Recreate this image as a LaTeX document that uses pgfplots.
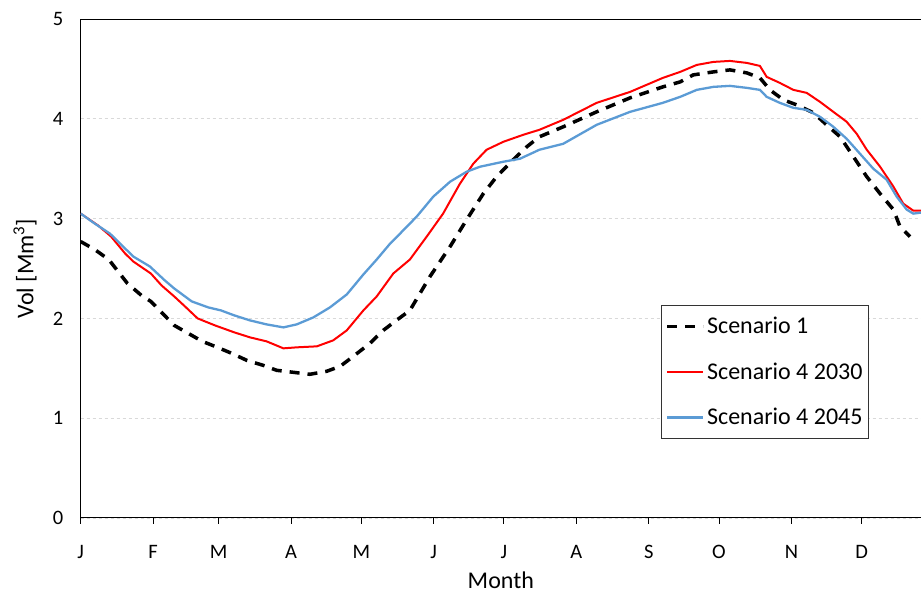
\documentclass[border=0pt]{standalone}
\usepackage{fontspec}
\setmainfont{Carlito}
\usepackage{pgfplots}
\pgfplotsset{compat=1.18}
\definecolor{exred}{HTML}{FF0000}
\definecolor{exblue}{HTML}{5B9BD5}
\definecolor{gridgray}{HTML}{D9D9D9}
\begin{document}
\begin{tikzpicture}[x=1pt,y=1pt]
\useasboundingbox (-80.7,-76) rectangle (840.3,518);
\begin{axis}[
 at={(0,0)}, anchor=south west,
 scale only axis, width=840.3pt, height=499pt,
 xmin=0, xmax=359.4, ymin=0, ymax=5,
 axis x line*=box, axis y line*=left,
 x axis line style={-, line width=1pt},
 y axis line style={-, line width=1pt},
 ytick={0,1,2,3,4,5},
 ytick style={draw=none},
 xtick={0,31,59,90,120,151,181,212,243,273,304,334},
 xticklabels={J,F,M,A,M,J,J,A,S,O,N,D},
 xtick pos=left,
 tick align=outside,
 major tick length=6pt,
 xtick style={black, line width=0.8pt},
 ymajorgrids,
 grid style={dashed, gridgray, line width=0.9pt},
 /pgf/number format/assume math mode=true,
 tick label style={font=\fontsize{20.5}{24}\selectfont},
 xticklabel style={anchor=base, yshift=-35pt},
 yticklabel style={anchor=east, xshift=-8pt},
 label style={font=\fontsize{24}{28}\selectfont},
 xlabel={Month},
 ylabel={Vol [Mm\textsuperscript{3}]},
 xlabel style={at={(axis description cs:0.5,-0.1403)}, anchor=base},
 ylabel style={at={(axis description cs:-0.0663,0.5)}, anchor=center},
 legend style={at={(0.938,0.427)}, anchor=north east, draw=black!80, line width=0.8pt,
   font=\fontsize{24}{28}\selectfont, row sep=23.5pt, inner xsep=4pt, inner ysep=10pt},
 legend cell align=left,
 legend image code/.code={\draw[#1] (0pt,0pt) -- (36pt,0pt);},
]
\addplot[black, line width=3.5pt, dash pattern=on 10pt off 8pt] coordinates {
(0,2.77)(6,2.69)(12,2.59)(16,2.47)(20,2.35)(26,2.23)(30,2.17)(35,2.05)(40,1.93)(46,1.85)
(52,1.77)(57.4,1.72)(64.6,1.65)(71,1.58)(78,1.53)(83.8,1.48)(90.9,1.46)(98,1.44)(105.2,1.47)
(111,1.52)(116.6,1.62)(123.7,1.75)(129.4,1.88)(135,1.98)(140.8,2.08)(149.4,2.42)(158,2.72)
(165.1,2.99)(172.2,3.25)(177.9,3.42)(185,3.59)(190.8,3.72)(196.2,3.82)(206.4,3.92)(220.7,4.07)
(235,4.21)(249,4.32)(256.4,4.37)(262,4.44)(270.6,4.47)(277.7,4.49)(284.9,4.46)(290.5,4.41)
(294.8,4.29)(300.5,4.19)(306.2,4.14)(313.4,4.06)(319,3.94)(324.8,3.82)(330.5,3.62)(336.2,3.42)
(341.9,3.25)(347.6,3.09)(350.4,2.92)(354.7,2.82)
};
\addlegendentry{Scenario 1}
\addplot[exred, line width=2pt] coordinates {
(0,3.05)(7.5,2.93)(13,2.82)(19,2.65)(22.5,2.57)(30,2.45)(34.6,2.33)(40,2.22)(44.6,2.12)(50,2.00)
(57.4,1.93)(65.7,1.86)(72.4,1.81)(79.5,1.77)(86.7,1.70)(92.4,1.71)(101,1.72)(108,1.78)(113.8,1.88)
(120.9,2.08)(126.6,2.22)(133.7,2.45)(140.8,2.59)(148,2.82)(155,3.05)(162.2,3.35)(167.9,3.55)
(173.6,3.69)(180.8,3.77)(189.3,3.84)(196.2,3.89)(206.4,3.99)(220.7,4.16)(235,4.27)(249,4.41)
(256.4,4.47)(263.5,4.54)(270.6,4.57)(277.7,4.58)(284.9,4.56)(290.5,4.53)(293.4,4.42)(299,4.36)
(304.8,4.29)(310.5,4.26)(316.2,4.17)(321.9,4.07)(327.6,3.97)(331.9,3.85)(336.2,3.69)(341.9,3.52)
(347.6,3.32)(351.8,3.15)(356.1,3.08)(359.4,3.08)
};
\addlegendentry{Scenario 4 2030}
\addplot[exblue, line width=2.3pt] coordinates {
(0,3.05)(6,2.95)(12.5,2.85)(19,2.70)(22.5,2.62)(29.6,2.52)(36,2.38)(40,2.30)(47.5,2.17)(54.6,2.11)
(60,2.08)(65.7,2.03)(72.4,1.98)(79.5,1.94)(86.7,1.91)(92.4,1.94)(99.5,2.01)(106.6,2.11)(113.8,2.24)
(120.9,2.44)(126.6,2.59)(132,2.74)(136.6,2.85)(143.7,3.02)(150.8,3.22)(158,3.37)(165.1,3.47)
(170.8,3.52)(180.8,3.57)(187.9,3.60)(196.2,3.69)(206.4,3.75)(220.7,3.94)(235,4.07)(249,4.16)
(256.4,4.22)(263.5,4.29)(270.6,4.32)(277.7,4.33)(284.9,4.31)(290.5,4.29)(293.4,4.22)(299,4.16)
(304.8,4.11)(310.5,4.09)(316.2,4.02)(321.9,3.92)(327.6,3.80)(333.3,3.65)(339,3.50)(344.7,3.39)
(349,3.22)(353.3,3.09)(356.1,3.05)(359.4,3.06)
};
\addlegendentry{Scenario 4 2045}
\end{axis}
\end{tikzpicture}
\end{document}
